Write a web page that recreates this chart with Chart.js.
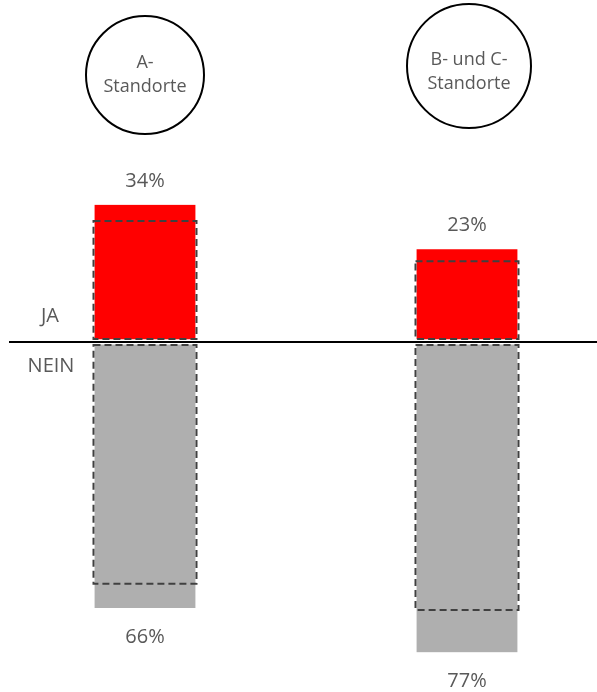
<!DOCTYPE html>
<html>
<head>
<meta charset="utf-8">
<script src="https://cdn.jsdelivr.net/npm/chart.js@4"></script>
<style>
  html, body { margin: 0; padding: 0; background: #fff; }
  #wrap { width: 597px; height: 692px; position: relative; }
</style>
</head>
<body>
<div id="wrap"><canvas id="standortChart"></canvas></div>
<script>
// Kategorien (mehrzeilig wie in den Kreisen)
const categories = [['A-', 'Standorte'], ['B- und C-', 'Standorte']];
// Anteile in %
const jaValues = [34, 23];
const neinValues = [-66, -77];
// gestrichelte Vergleichswerte (geschätzt)
const jaCompare = [30, 20];
const neinCompare = [-60, -66.5];
const sideLabels = ['JA', 'NEIN'];

const textColor = '#595959';
const font = '20px "Open Sans", sans-serif';

const decoPlugin = {
  id: 'deco',
  beforeDatasetsDraw(chart) {
    const c = chart.ctx;
    const circles = [{ y: 75, r: 59, lines: [63, 87] }, { y: 66, r: 62, lines: [60, 84] }];
    const meta = chart.getDatasetMeta(0);
    c.save();
    meta.data.forEach((bar, i) => {
      const ci = circles[i];
      const cx = bar.x + (i === 1 ? 2 : 0);
      c.beginPath();
      c.arc(cx, ci.y, ci.r, 0, Math.PI * 2);
      c.lineWidth = 2;
      c.strokeStyle = '#000';
      c.stroke();
      c.fillStyle = textColor;
      c.font = '18px "Open Sans", sans-serif';
      c.textAlign = 'center';
      c.textBaseline = 'middle';
      categories[i].forEach((t, k) => c.fillText(t, cx, ci.lines[k]));
    });
    c.restore();
  },
  afterDatasetsDraw(chart) {
    const c = chart.ctx;
    const y = chart.scales.y;
    const y0 = y.getPixelForValue(0);
    const meta = chart.getDatasetMeta(0);
    c.save();
    // gestrichelte Rahmen
    c.setLineDash([7, 4]);
    c.lineWidth = 2;
    c.strokeStyle = '#404040';
    meta.data.forEach((bar, i) => {
      const left = bar.x - bar.width / 2 - 1;
      const w = bar.width + 2;
      const top = y.getPixelForValue(jaCompare[i]);
      c.strokeRect(left, top, w, (y0 - 3) - top);
      const bot = y.getPixelForValue(neinCompare[i]);
      c.strokeRect(left, y0 + 3, w, bot - (y0 + 3));
    });
    c.setLineDash([]);
    // Nulllinie
    c.beginPath();
    c.moveTo(9, y0);
    c.lineTo(chart.width, y0);
    c.lineWidth = 2;
    c.strokeStyle = '#000';
    c.stroke();
    // Beschriftungen
    c.fillStyle = textColor;
    c.font = font;
    c.textAlign = 'center';
    c.textBaseline = 'middle';
    c.fillText(sideLabels[0], 50, y0 - 26);
    c.fillText(sideLabels[1], 51, y0 + 24);
    meta.data.forEach((bar, i) => {
      c.fillText(Math.abs(jaValues[i]) + '%', bar.x, y.getPixelForValue(jaValues[i]) - 24);
      c.fillText(Math.abs(neinValues[i]) + '%', bar.x, y.getPixelForValue(neinValues[i]) + 29);
    });
    c.restore();
  }
};

new Chart(document.getElementById('standortChart'), {
  type: 'bar',
  data: {
    labels: categories,
    datasets: [{
      label: 'JA',
      data: jaValues,
      backgroundColor: '#ff0000',
      borderColor: '#ffffff',
      borderWidth: { top: 0, left: 0, right: 0, bottom: 3 },
      borderSkipped: false,
      barThickness: 101,
      clip: false
    }, {
      label: 'NEIN',
      data: neinValues,
      backgroundColor: '#afafaf',
      borderColor: '#ffffff',
      borderWidth: { top: 3, left: 0, right: 0, bottom: 0 },
      borderSkipped: false,
      barThickness: 101,
      clip: false
    }]
  },
  options: {
    responsive: true,
    maintainAspectRatio: false,
    animation: false,
    layout: { padding: { left: 145, right: 130, top: 100, bottom: 7.4 } },
    plugins: {
      legend: { display: false },
      tooltip: { enabled: false }
    },
    scales: {
      x: { display: false, stacked: true, offset: false, grid: { display: false } },
      y: { display: false, stacked: true, min: -85, max: 60, grid: { display: false } }
    }
  },
  plugins: [decoPlugin]
});
</script>
</body>
</html>
